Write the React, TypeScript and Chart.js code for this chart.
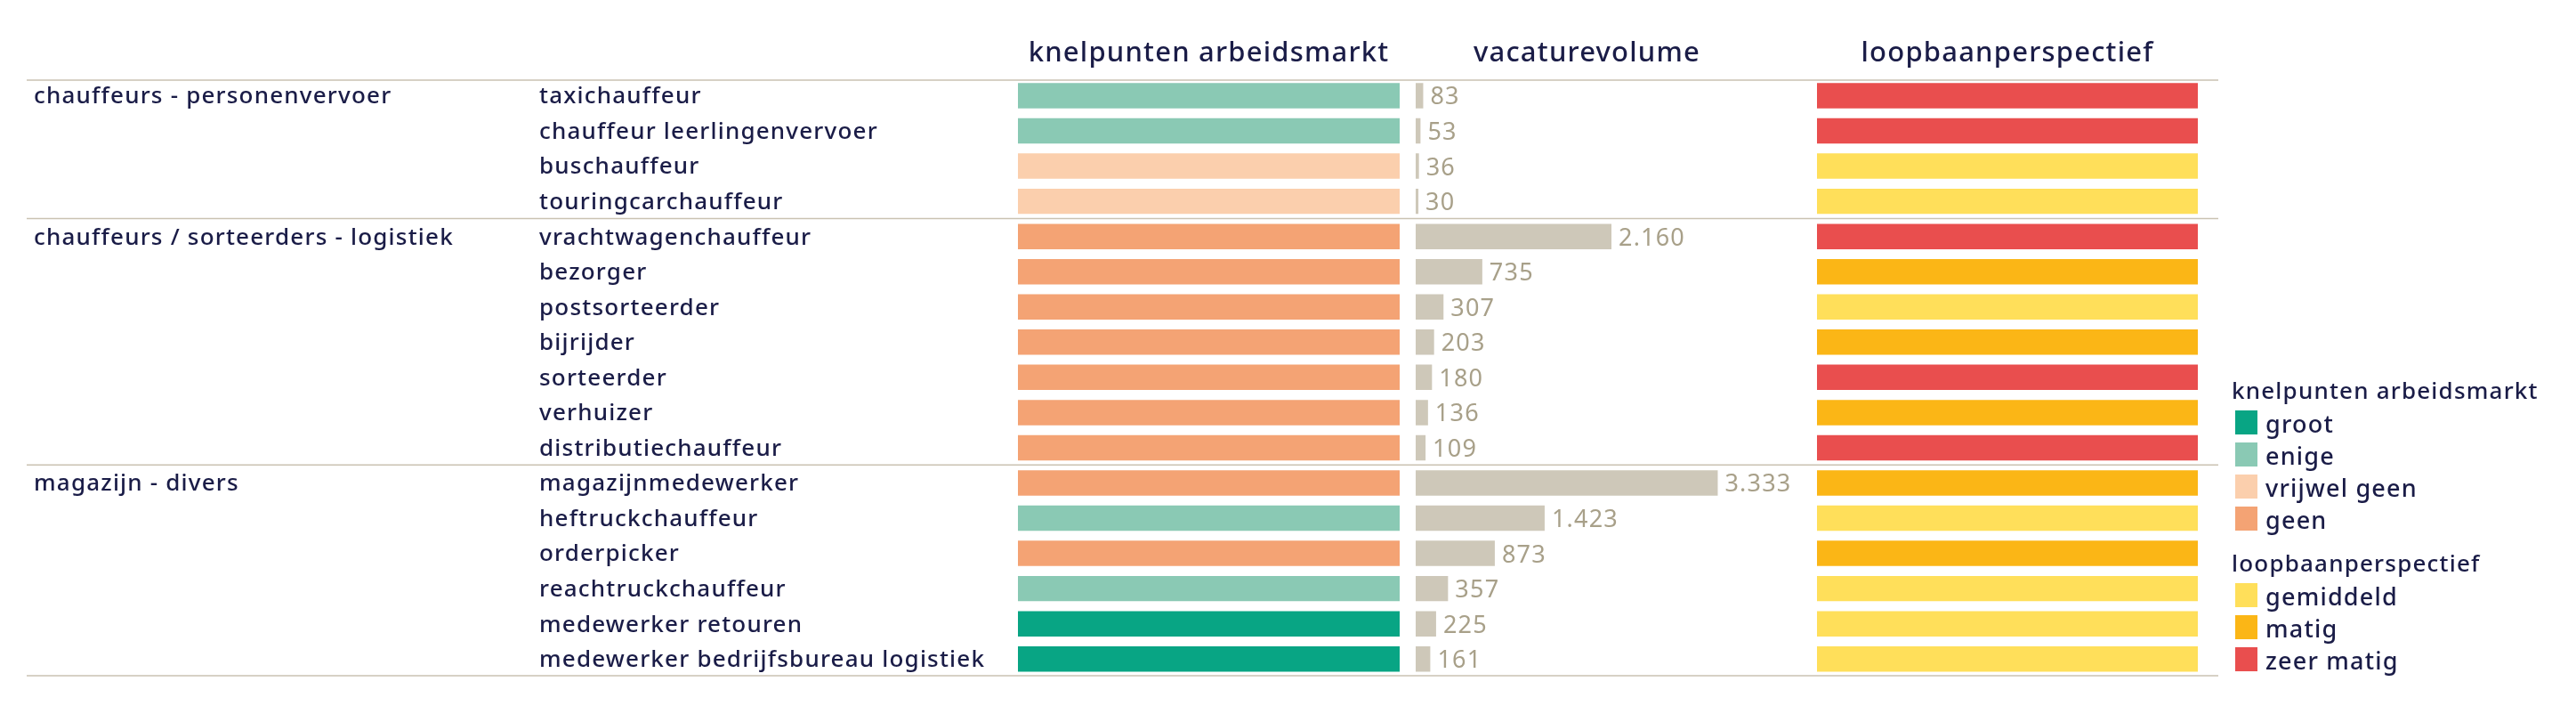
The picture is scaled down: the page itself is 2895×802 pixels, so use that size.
import React, { useEffect, useRef } from 'react';
import { Chart, registerables } from 'chart.js';

Chart.register(...registerables);

// ---------- data ----------
const jobs = [
  'taxichauffeur',
  'chauffeur leerlingenvervoer',
  'buschauffeur',
  'touringcarchauffeur',
  'vrachtwagenchauffeur',
  'bezorger',
  'postsorteerder',
  'bijrijder',
  'sorteerder',
  'verhuizer',
  'distributiechauffeur',
  'magazijnmedewerker',
  'heftruckchauffeur',
  'orderpicker',
  'reachtruckchauffeur',
  'medewerker retouren',
  'medewerker bedrijfsbureau logistiek',
];

const jobGroups = [
  'chauffeurs - personenvervoer',
  'chauffeurs - personenvervoer',
  'chauffeurs - personenvervoer',
  'chauffeurs - personenvervoer',
  'chauffeurs / sorteerders - logistiek',
  'chauffeurs / sorteerders - logistiek',
  'chauffeurs / sorteerders - logistiek',
  'chauffeurs / sorteerders - logistiek',
  'chauffeurs / sorteerders - logistiek',
  'chauffeurs / sorteerders - logistiek',
  'chauffeurs / sorteerders - logistiek',
  'magazijn - divers',
  'magazijn - divers',
  'magazijn - divers',
  'magazijn - divers',
  'magazijn - divers',
  'magazijn - divers',
];

const knelpunten = [
  'enige', 'enige', 'vrijwel geen', 'vrijwel geen',
  'geen', 'geen', 'geen', 'geen', 'geen', 'geen', 'geen',
  'geen', 'enige', 'geen', 'enige', 'groot', 'groot',
];

const vacatures = [83, 53, 36, 30, 2160, 735, 307, 203, 180, 136, 109, 3333, 1423, 873, 357, 225, 161];

const loopbaan = [
  'zeer matig', 'zeer matig', 'gemiddeld', 'gemiddeld',
  'zeer matig', 'matig', 'gemiddeld', 'matig', 'zeer matig', 'matig', 'zeer matig',
  'matig', 'gemiddeld', 'matig', 'gemiddeld', 'gemiddeld', 'gemiddeld',
];

const knelpuntLevels = ['groot', 'enige', 'vrijwel geen', 'geen'];
const loopbaanLevels = ['gemiddeld', 'matig', 'zeer matig'];
const columnTitles = ['knelpunten arbeidsmarkt', 'vacaturevolume', 'loopbaanperspectief'];

// ---------- styles ----------
const knelColors: Record<string, string> = {
  groot: '#08a584',
  enige: '#8ac9b4',
  'vrijwel geen': '#fbcfad',
  geen: '#f4a374',
};
const loopColors: Record<string, string> = {
  gemiddeld: '#ffdf5a',
  matig: '#fbb616',
  'zeer matig': '#e94e4e',
};
const FONT = '"Noto Sans", "Open Sans", sans-serif';
const NAVY = '#1a1c47';
const TAN = '#a8a089';
const VAC_BAR = '#cec8b9';
const LINE = '#cac2b2';
const W = '500';

const fmt = (v: number) => String(v).replace(/\B(?=(\d{3})+(?!\d))/g, '.');

const groupLabels = jobGroups.map((g, i) => (i === 0 || jobGroups[i - 1] !== g ? g : ''));

const spacingPlugin = {
  id: 'spacing',
  beforeDraw(chart: any) {
    chart.ctx.letterSpacing = '1.2px';
  },
};

const linesPlugin = {
  id: 'rowLines',
  afterDraw(chart: any) {
    const { ctx, chartArea, scales } = chart;
    const y = scales.y;
    const step = y.getPixelForValue(1) - y.getPixelForValue(0);
    const x0 = scales.y2.left - 8;
    const x1 = chartArea.right + 23;
    const ys: number[] = [chartArea.top + 2.3];
    jobGroups.forEach((g, i) => {
      if (i > 0 && jobGroups[i - 1] !== g) ys.push(y.getPixelForValue(i) - step / 2 - 0.5);
    });
    ys.push(chartArea.bottom - 1);
    ctx.save();
    ctx.strokeStyle = LINE;
    ctx.lineWidth = 1.5;
    ys.forEach((yy) => {
      ctx.beginPath();
      ctx.moveTo(x0, yy);
      ctx.lineTo(x1, yy);
      ctx.stroke();
    });
    ctx.restore();
  },
};

const valueLabelPlugin = {
  id: 'valueLabels',
  afterDatasetsDraw(chart: any) {
    const { ctx } = chart;
    const meta = chart.getDatasetMeta(1);
    ctx.save();
    ctx.font = `27px ${FONT}`;
    ctx.fillStyle = TAN;
    ctx.textAlign = 'left';
    ctx.textBaseline = 'alphabetic';
    meta.data.forEach((bar: any, i: number) => {
      ctx.fillText(fmt(vacatures[i]), bar.x + 8, bar.y + 10);
    });
    ctx.restore();
  },
};

const legendPlugin = {
  id: 'customLegend',
  afterDraw(chart: any) {
    const { ctx, chartArea } = chart;
    const x = chartArea.right + 38;
    const sections = [
      { title: columnTitles[0], items: knelpuntLevels, colors: knelColors },
      { title: columnTitles[2], items: loopbaanLevels, colors: loopColors },
    ];
    let baseline = 448;
    ctx.save();
    ctx.textAlign = 'left';
    ctx.textBaseline = 'alphabetic';
    sections.forEach((s) => {
      ctx.font = `${W} 26px ${FONT}`;
      ctx.fillStyle = NAVY;
      ctx.fillText(s.title, x, baseline);
      let top = baseline + 13;
      s.items.forEach((item) => {
        ctx.fillStyle = s.colors[item];
        ctx.fillRect(x + 4, top, 25, 27);
        ctx.font = `${W} 27px ${FONT}`;
        ctx.fillStyle = NAVY;
        ctx.fillText(item, x + 38, top + 25);
        top += 36;
      });
      baseline = top + 37;
    });
    ctx.restore();
  },
};

const hiddenGrid = { display: false, drawTicks: false, drawOnChartArea: false };

const colAxis = (title: string, max: number, stackWeight: number, weight: number) => ({
  type: 'linear',
  position: 'top',
  stack: 'cols',
  stackWeight,
  weight,
  min: 0,
  max,
  grid: hiddenGrid,
  border: { display: false },
  ticks: { display: false },
  title: {
    display: true,
    text: title,
    color: NAVY,
    font: { family: FONT, size: 31, weight: W },
    padding: { top: 41.5, bottom: 9 },
  },
});

const spacerAxis = (stackWeight: number, weight: number) => ({
  type: 'linear',
  position: 'top',
  stack: 'cols',
  stackWeight,
  weight,
  display: false,
});

const labelTicks = {
  crossAlign: 'far',
  color: NAVY,
  font: { family: FONT, size: 26, weight: W },
  padding: 0,
  autoSkip: false,
  labelOffset: 1.5,
};

export default function App() {
  const canvasRef = useRef<HTMLCanvasElement | null>(null);

  useEffect(() => {
    const canvas = canvasRef.current;
    if (!canvas) return;
    const common = { grouped: false, barPercentage: 0.72, categoryPercentage: 1, yAxisID: 'y', borderWidth: 0 };
    const chart = new Chart(canvas, {
      type: 'bar',
      data: {
        labels: jobs,
        datasets: [
          {
            ...common,
            label: columnTitles[0],
            data: jobs.map(() => 1),
            xAxisID: 'x1',
            backgroundColor: knelpunten.map((k) => knelColors[k]),
          },
          {
            ...common,
            label: columnTitles[1],
            data: vacatures,
            xAxisID: 'x2',
            backgroundColor: VAC_BAR,
          },
          {
            ...common,
            label: columnTitles[2],
            data: jobs.map(() => 1),
            xAxisID: 'x3',
            backgroundColor: loopbaan.map((l) => loopColors[l]),
          },
        ] as any,
      },
      options: {
        indexAxis: 'y',
        responsive: false,
        animation: false,
        devicePixelRatio: 1,
        layout: { padding: { left: 38, right: 425, top: 0, bottom: 42 } },
        plugins: {
          legend: { display: false },
          tooltip: { enabled: false },
          title: { display: false },
        },
        scales: {
          y2: {
            type: 'category',
            labels: groupLabels,
            position: 'left',
            weight: 2,
            offset: true,
            grid: hiddenGrid,
            border: { display: false },
            ticks: labelTicks,
            afterFit: (s: any) => {
              s.width = 568;
            },
          },
          y: {
            type: 'category',
            position: 'left',
            weight: 1,
            offset: true,
            grid: hiddenGrid,
            border: { display: false },
            ticks: labelTicks,
            afterFit: (s: any) => {
              s.width = 538;
            },
          },
          x1: colAxis(columnTitles[0], 1, 429, 5),
          s1: spacerAxis(18, 4),
          x2: colAxis(columnTitles[1], 3780, 385, 3),
          s2: spacerAxis(66, 2),
          x3: colAxis(columnTitles[2], 1, 428, 1),
        } as any,
      } as any,
      plugins: [spacingPlugin, linesPlugin, valueLabelPlugin, legendPlugin],
    });
    return () => chart.destroy();
  }, []);

  return (
    <div style={{ position: 'absolute', left: 0, top: 0, width: 2895, height: 802, background: '#ffffff' }}>
      <canvas ref={canvasRef} width={2895} height={802} style={{ width: 2895, height: 802, display: 'block' }} />
    </div>
  );
}
